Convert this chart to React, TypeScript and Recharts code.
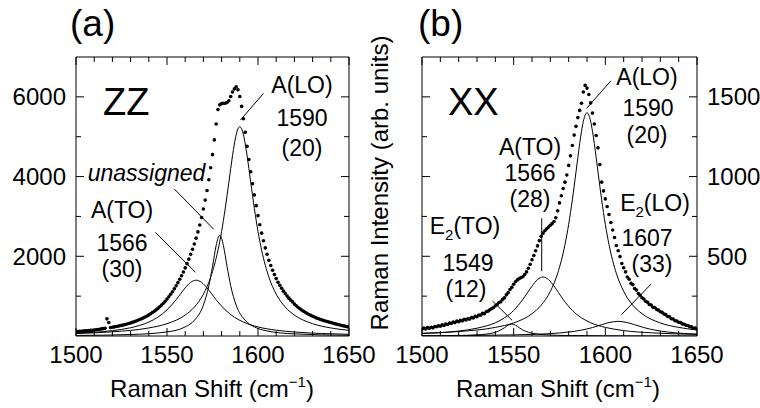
import React from 'react'
import { ComposedChart, XAxis, YAxis, Scatter, Line, ReferenceLine } from 'recharts'

const FONT = '"Liberation Sans", Arial, Helvetica, sans-serif'

// Raman shift grid of the measured spectra (cm^-1)
const shift = [
  1500, 1501, 1502, 1503, 1504, 1505, 1506, 1507, 1508, 1509,
  1510, 1511, 1512, 1513, 1514, 1515, 1516, 1517, 1518, 1519,
  1520, 1521, 1522, 1523, 1524, 1525, 1526, 1527, 1528, 1529,
  1530, 1531, 1532, 1533, 1534, 1535, 1536, 1537, 1538, 1539,
  1540, 1541, 1542, 1543, 1544, 1545, 1546, 1547, 1548, 1549,
  1550, 1551, 1552, 1553, 1554, 1555, 1556, 1557, 1558, 1559,
  1560, 1561, 1562, 1563, 1564, 1565, 1566, 1567, 1568, 1569,
  1570, 1571, 1572, 1573, 1574, 1575, 1576, 1577, 1578, 1579,
  1580, 1581, 1582, 1583, 1584, 1585, 1586, 1587, 1588, 1589,
  1590, 1591, 1592, 1593, 1594, 1595, 1596, 1597, 1598, 1599,
  1600, 1601, 1602, 1603, 1604, 1605, 1606, 1607, 1608, 1609,
  1610, 1611, 1612, 1613, 1614, 1615, 1616, 1617, 1618, 1619,
  1620, 1621, 1622, 1623, 1624, 1625, 1626, 1627, 1628, 1629,
  1630, 1631, 1632, 1633, 1634, 1635, 1636, 1637, 1638, 1639,
  1640, 1641, 1642, 1643, 1644, 1645, 1646, 1647, 1648, 1649,
  1650,
]

// (a) ZZ measured intensity
const zzIntensity = [
  110, 113, 116, 120, 124, 128, 132, 136, 141, 146,
  151, 157, 163, 170, 178, 186, 195, 430, 340, 212,
  220, 228, 237, 246, 256, 266, 277, 289, 301, 314,
  328, 343, 359, 376, 394, 413, 433, 455, 478, 503,
  530, 558, 588, 620, 655, 692, 732, 775, 822, 872,
  926, 984, 1046, 1112, 1183, 1258, 1338, 1422, 1512, 1607,
  1708, 1815, 1928, 2048, 2175, 2310, 2455, 2612, 2785, 2975,
  3185, 3410, 3650, 3920, 4220, 4550, 4920, 5320, 5680, 5800,
  5830, 5840, 5840, 5860, 5900, 6010, 6120, 6200, 6250, 6180,
  6010, 5760, 5450, 5110, 4760, 4430, 4120, 3820, 3540, 3270,
  3020, 2790, 2580, 2390, 2210, 2050, 1900, 1770, 1650, 1540,
  1440, 1350, 1270, 1195, 1125, 1062, 1004, 950, 900, 855,
  800, 758, 720, 685, 652, 621, 593, 566, 541, 518,
  496, 475, 456, 438, 421, 405, 390, 376, 362, 349,
  337, 324, 311, 299, 287, 276, 265, 254, 244, 234,
  224,
]

// (b) XX measured intensity
const xxIntensity = [
  42, 50, 44, 53, 48, 55, 51, 60, 58, 64,
  61, 70, 66, 75, 72, 81, 78, 88, 84, 93,
  90, 98, 95, 104, 101, 108, 106, 116, 113, 124,
  121, 132, 130, 142, 140, 152, 156, 164, 172, 178,
  190, 198, 210, 215, 230, 240, 258, 272, 292, 305,
  325, 340, 352, 360, 366, 372, 385, 402, 425, 450,
  478, 505, 535, 565, 598, 625, 645, 660, 672, 684,
  695, 705, 718, 742, 785, 835, 880, 925, 965, 1010,
  1070, 1130, 1195, 1260, 1315, 1370, 1415, 1460, 1530, 1572,
  1555, 1515, 1462, 1398, 1330, 1258, 1180, 1075, 965, 910,
  860, 812, 762, 712, 665, 618, 568, 535, 498, 455,
  428, 402, 370, 356, 330, 322, 298, 288, 266, 256,
  240, 232, 218, 212, 198, 194, 180, 178, 166, 162,
  152, 148, 138, 134, 122, 120, 108, 107, 96, 94,
  86, 84, 76, 74, 67, 66, 58, 57, 49, 50,
  44,
]

// fitted components, (a) ZZ
const zzLoX = [1500, 1520, 1540, 1550, 1560, 1565, 1570, 1574, 1578, 1580, 1582, 1584, 1585, 1586, 1587, 1588, 1589, 1590, 1591, 1592, 1593, 1594, 1595, 1596, 1598, 1600, 1602, 1606, 1610, 1615, 1620, 1630, 1640, 1650]
const zzLoY = [64, 105, 202, 309, 525, 724, 1050, 1475, 2152, 2625, 3201, 3860, 4200, 4526, 4817, 5048, 5198, 5250, 5198, 5048, 4817, 4526, 4200, 3860, 3201, 2625, 2152, 1475, 1050, 724, 525, 309, 202, 142]
const zzToX = [1500, 1520, 1530, 1540, 1545, 1550, 1555, 1560, 1563, 1566, 1569, 1572, 1577, 1582, 1587, 1592, 1600, 1610, 1620, 1635, 1650]
const zzToY = [69, 135, 207, 350, 473, 655, 910, 1207, 1346, 1400, 1346, 1207, 910, 655, 473, 350, 228, 146, 100, 63, 43]
const zzUnX = [1500, 1530, 1550, 1560, 1565, 1570, 1573, 1575, 1577, 1578, 1579, 1580, 1581, 1583, 1585, 1588, 1593, 1598, 1605, 1620, 1650]
const zzUnY = [14, 37, 103, 229, 391, 775, 1260, 1745, 2268, 2452, 2520, 2452, 2268, 1745, 1260, 775, 391, 229, 127, 53, 18]

// fitted components, (b) XX
const xxLoX = [1500, 1520, 1540, 1550, 1560, 1565, 1570, 1574, 1578, 1580, 1582, 1584, 1585, 1586, 1587, 1588, 1589, 1590, 1591, 1592, 1593, 1594, 1595, 1596, 1598, 1600, 1602, 1606, 1610, 1615, 1620, 1630, 1640, 1650]
const xxLoY = [17, 28, 54, 82, 140, 193, 280, 393, 574, 700, 854, 1029, 1120, 1207, 1284, 1346, 1386, 1400, 1386, 1346, 1284, 1207, 1120, 1029, 854, 700, 574, 393, 280, 193, 140, 82, 54, 38]
const xxToX = [1500, 1520, 1530, 1540, 1545, 1550, 1555, 1560, 1563, 1566, 1569, 1572, 1577, 1582, 1587, 1592, 1600, 1610, 1625, 1650]
const xxToY = [16, 31, 49, 83, 114, 160, 229, 313, 354, 370, 354, 313, 229, 160, 114, 83, 54, 34, 20, 10]
const xxE2ToX = [1500, 1520, 1530, 1535, 1540, 1543, 1545, 1547, 1549, 1551, 1553, 1555, 1558, 1563, 1568, 1580, 1600, 1650]
const xxE2ToY = [1, 3, 7, 12, 23, 38, 52, 68, 75, 68, 52, 38, 23, 12, 7, 3, 1, 0]
const xxE2LoX = [1500, 1530, 1550, 1560, 1570, 1580, 1587, 1593, 1598, 1602, 1607, 1612, 1616, 1621, 1627, 1634, 1644, 1650]
const xxE2LoY = [2, 4, 7, 10, 15, 25, 37, 53, 71, 84, 92, 84, 71, 53, 37, 25, 15, 12]

// axes
const xTicks = [1500, 1510, 1520, 1530, 1540, 1550, 1560, 1570, 1580, 1590, 1600, 1610, 1620, 1630, 1640, 1650]
const zzYTicks = [1000, 2000, 3000, 4000, 5000, 6000]
const xxYTicks = [250, 500, 750, 1000, 1250, 1500]

// leader lines [x1, y1, x2, y2] in data units
const zzLeaders = [
  [1603, 6085, 1590.3, 5417],
  [1554, 3690, 1575.6, 2680],
  [1543.6, 2600, 1565.6, 1600],
]
const xxLeaders = [
  [1603, 1600, 1589.7, 1427],
  [1565.3, 738, 1565.3, 406],
  [1538.5, 219, 1549.2, 98],
  [1625, 326, 1608.9, 135],
]

const pts = (xs: number[], ys: number[]) => xs.map((x, i) => ({ x, y: ys[i] }))

function BottomTick({ x, y, payload }: any) {
  const major = payload.value % 50 === 0
  return (
    <g>
      <line x1={x} y1={y} x2={x} y2={y - (major ? 8 : 5)} stroke="#000" />
      {major && (
        <text x={x} y={y + 27} textAnchor="middle" fontSize={24} fontFamily={FONT} fill="#000">
          {payload.value}
        </text>
      )}
    </g>
  )
}

function TopTick({ x, y, payload }: any) {
  const major = payload.value % 50 === 0
  return <line x1={x} y1={y} x2={x} y2={y + (major ? 8 : 5)} stroke="#000" />
}

function SideTick({ x, y, payload, side, step, labels }: any) {
  const major = payload.value % step === 0
  const dir = side === 'left' ? 1 : -1
  return (
    <g>
      <line x1={x} y1={y} x2={x + dir * (major ? 8 : 5)} y2={y} stroke="#000" />
      {labels && major && (
        <text
          x={x - dir * 10}
          y={y + 8.5}
          textAnchor={side === 'left' ? 'end' : 'start'}
          fontSize={24}
          fontFamily={FONT}
          fill="#000"
        >
          {payload.value}
        </text>
      )}
    </g>
  )
}

function Dot({ cx, cy }: any) {
  return <circle cx={cx} cy={cy} r={1.8} fill="#000" />
}

function Panel({ dots, fits, leaders, yMax, yTicks, step, labelSide, margin }: any) {
  const ax = { stroke: '#000', strokeWidth: 1 }
  return (
    <ComposedChart width={380} height={408} margin={margin}>
      <XAxis xAxisId="b" dataKey="x" type="number" domain={[1500, 1650]} ticks={xTicks} interval={0}
        allowDataOverflow height={1} tickSize={0} tickMargin={0} tickLine={false} axisLine={ax} tick={<BottomTick />} />
      <XAxis xAxisId="t" orientation="top" dataKey="x" type="number" domain={[1500, 1650]} ticks={xTicks} interval={0}
        allowDataOverflow height={1} tickSize={0} tickMargin={0} tickLine={false} axisLine={ax} tick={<TopTick />} />
      <YAxis yAxisId="l" dataKey="y" type="number" domain={[0, yMax]} ticks={yTicks} interval={0}
        allowDataOverflow width={1} tickSize={0} tickMargin={0} tickLine={false} axisLine={ax}
        tick={<SideTick side="left" step={step} labels={labelSide === 'left'} />} />
      <YAxis yAxisId="r" orientation="right" dataKey="y" type="number" domain={[0, yMax]} ticks={yTicks} interval={0}
        allowDataOverflow width={1} tickSize={0} tickMargin={0} tickLine={false} axisLine={ax}
        tick={<SideTick side="right" step={step} labels={labelSide === 'right'} />} />
      {fits.map((f: any, i: number) => (
        <Line key={i} xAxisId="b" yAxisId="l" data={f} dataKey="y" type="monotone" dot={false}
          stroke="#000" strokeWidth={1} isAnimationActive={false} />
      ))}
      <Scatter xAxisId="b" yAxisId="l" data={dots} dataKey="y" shape={<Dot />} isAnimationActive={false} />
      {/* keep top / right axes tied to a series so they are drawn */}
      <Line xAxisId="t" yAxisId="r" data={dots} dataKey="y" stroke="none" dot={false} activeDot={false}
        isAnimationActive={false} />
      {leaders.map((s: number[], i: number) => (
        <ReferenceLine key={i} xAxisId="b" yAxisId="l" ifOverflow="visible" stroke="#000" strokeWidth={1}
          segment={[{ x: s[0], y: s[1] }, { x: s[2], y: s[3] }]} />
      ))}
    </ComposedChart>
  )
}

function E2({ x, y, rest }: { x: number; y: number; rest: string }) {
  return (
    <text x={x} y={y} textAnchor="middle">
      E<tspan fontSize={15} dy={6}>2</tspan><tspan dy={-6}>{rest}</tspan>
    </text>
  )
}

export default function App() {
  return (
    <div style={{ position: 'absolute', left: 0, top: 0, width: 760, height: 408, background: '#fff' }}>
      <div style={{ position: 'absolute', left: 0, top: 0 }}>
        <Panel
          dots={pts(shift, zzIntensity)}
          fits={[pts(zzLoX, zzLoY), pts(zzToX, zzToY), pts(zzUnX, zzUnY)]}
          leaders={zzLeaders}
          yMax={7000}
          yTicks={zzYTicks}
          step={2000}
          labelSide="left"
          margin={{ top: 56, right: 30, bottom: 71, left: 75 }}
        />
      </div>
      <div style={{ position: 'absolute', left: 380, top: 0 }}>
        <Panel
          dots={pts(shift, xxIntensity)}
          fits={[pts(xxLoX, xxLoY), pts(xxToX, xxToY), pts(xxE2ToX, xxE2ToY), pts(xxE2LoX, xxE2LoY)]}
          leaders={xxLeaders}
          yMax={1750}
          yTicks={xxYTicks}
          step={500}
          labelSide="right"
          margin={{ top: 56, right: 62, bottom: 71, left: 41 }}
        />
      </div>
      <svg width={760} height={408} style={{ position: 'absolute', left: 0, top: 0, pointerEvents: 'none' }}
        fontFamily={FONT} fill="#000">
        <text x={70} y={36} fontSize={37}>(a)</text>
        <text x={418} y={36} fontSize={37}>(b)</text>
        <text x={103} y={115} fontSize={38}>ZZ</text>
        <text x={448} y={115} fontSize={38}>XX</text>

        <g fontSize={23}>
          <text x={302} y={93} textAnchor="middle">A(LO)</text>
          <text x={302} y={126} textAnchor="middle">1590</text>
          <text x={302} y={156} textAnchor="middle">(20)</text>
          <text x={146.5} y={181} textAnchor="middle" fontStyle="italic">unassigned</text>
          <text x={122} y={218} textAnchor="middle">A(TO)</text>
          <text x={122} y={251} textAnchor="middle">1566</text>
          <text x={122} y={277} textAnchor="middle">(30)</text>

          <text x={647} y={85} textAnchor="middle">A(LO)</text>
          <text x={648} y={116} textAnchor="middle">1590</text>
          <text x={647} y={143} textAnchor="middle">(20)</text>
          <text x={530} y={155} textAnchor="middle">A(TO)</text>
          <text x={530} y={181} textAnchor="middle">1566</text>
          <text x={530} y={207} textAnchor="middle">(28)</text>
          <E2 x={465} y={234} rest="(TO)" />
          <text x={468} y={271} textAnchor="middle">1549</text>
          <text x={466} y={297} textAnchor="middle">(12)</text>
          <E2 x={655} y={211} rest="(LO)" />
          <text x={647} y={246} textAnchor="middle">1607</text>
          <text x={652} y={272} textAnchor="middle">(33)</text>
        </g>

        <g fontSize={24}>
          <text x={212} y={397} textAnchor="middle">
            Raman Shift (cm<tspan fontSize={15} dy={-10}>−1</tspan><tspan dy={10}>)</tspan>
          </text>
          <text x={558} y={397} textAnchor="middle">
            Raman Shift (cm<tspan fontSize={15} dy={-10}>−1</tspan><tspan dy={10}>)</tspan>
          </text>
          <text transform="translate(388,183) rotate(-90)" textAnchor="middle">Raman Intensity (arb. units)</text>
        </g>
      </svg>
    </div>
  )
}
